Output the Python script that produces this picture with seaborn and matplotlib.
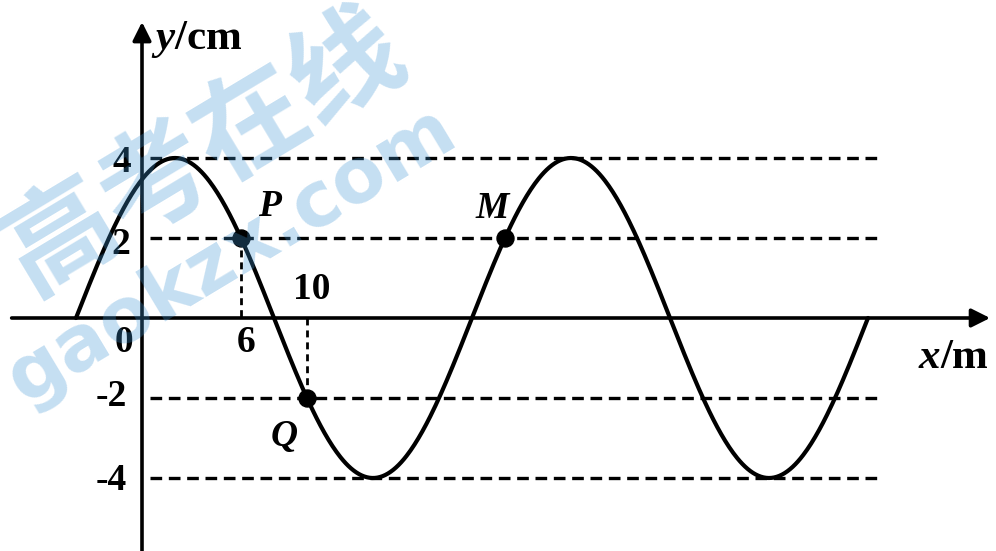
import numpy as np
import pandas as pd
import matplotlib
matplotlib.use("Agg")
import matplotlib.pyplot as plt
import seaborn as sns

# ---- data ----
amplitude_cm = 4.0
wavelength_m = 24.0
wave_start_m = -4.0
wave_end_m = 44.0
guide_levels = [4, 2, -2, -4]
point_names = ["P", "Q", "M"]
point_x = [6, 10, 22]
point_y = [2, -2, 2]
y_tick_values = [4, 2, -2, -4]
y_tick_labels = ["4", "2", "-2", "-4"]
x_tick_values = [0, 6, 10]
x_tick_labels = ["0", "6", "10"]

sns.set_theme(style="white")
plt.rcParams["mathtext.fontset"] = "custom"
plt.rcParams["mathtext.it"] = "Liberation Serif:italic:bold"
plt.rcParams["mathtext.rm"] = "Liberation Serif:bold"
plt.rcParams["mathtext.bf"] = "Liberation Serif:bold"
plt.rcParams["font.family"] = ["Liberation Serif", "DejaVu Sans"]

fig = plt.figure(figsize=(9.96, 5.51), dpi=100)
ax = fig.add_axes([0, 0, 1, 1])
ax.set_xlim(-142 / 16.5, (996 - 142) / 16.5)
ax.set_ylim(-(551 - 318) / 40, 318 / 40)
ax.axis("off")

# wave curve (sinusoid defined by read amplitude / wavelength / zero at x=-4)
xs = np.linspace(wave_start_m, wave_end_m, 600)
ys = amplitude_cm * np.sin(2 * np.pi * (xs - wave_start_m) / wavelength_m)
wave = pd.DataFrame({"x": xs, "y": ys})
sns.lineplot(data=wave, x="x", y="y", ax=ax, color="black", lw=3.0, sort=False, zorder=4)

# dashed guide lines
guide_right = 44.8
for lv in guide_levels:
    ax.plot([0.5, guide_right], [lv, lv], color="black", lw=2.4,
            linestyle=(0, (3.5, 2.0)), zorder=3)
# vertical dashed lines for P and Q
ax.plot([point_x[0], point_x[0]], [point_y[0], 0], color="black", lw=2.0,
        linestyle=(0, (2.5, 1.8)), zorder=3)
ax.plot([point_x[1], point_x[1]], [0, point_y[1]], color="black", lw=2.0,
        linestyle=(0, (2.5, 1.8)), zorder=3)

pts = pd.DataFrame({"x": point_x, "y": point_y, "name": point_names})
sns.scatterplot(data=pts, x="x", y="y", ax=ax, color="black", s=150,
                edgecolor="black", zorder=5, legend=False)

# axes with arrows
ax.annotate("", xy=(51.4, 0), xytext=(-7.9, 0),
            arrowprops=dict(arrowstyle="-|>", lw=2.6, color="black",
                            mutation_scale=28, shrinkA=0, shrinkB=0), zorder=6)
ax.annotate("", xy=(0, 7.4), xytext=(0, -5.9),
            arrowprops=dict(arrowstyle="-|>", lw=2.6, color="black",
                            mutation_scale=28, shrinkA=0, shrinkB=0), zorder=6)

fs = 27
tick_kw = dict(fontsize=fs, fontweight="bold", color="black", zorder=7)
ax.text(-1.2, 3.9, y_tick_labels[0], ha="center", va="center", **tick_kw)
ax.text(-1.3, 1.85, y_tick_labels[1], ha="center", va="center", **tick_kw)
ax.text(-1.85, -1.95, y_tick_labels[2], ha="center", va="center", **tick_kw)
ax.text(-1.85, -4.05, y_tick_labels[3], ha="center", va="center", **tick_kw)
ax.text(-1.1, -0.62, x_tick_labels[0], ha="center", va="center", **tick_kw)
ax.text(6.3, -0.62, x_tick_labels[1], ha="center", va="center", **tick_kw)
ax.text(10.3, 0.72, x_tick_labels[2], ha="center", va="center", **tick_kw)

lab_kw = dict(fontsize=fs, fontstyle="italic", fontweight="bold", color="black", zorder=7)
ax.text(7.7, 2.8, point_names[0], ha="center", va="center", **lab_kw)
ax.text(8.6, -2.95, point_names[1], ha="center", va="center", **lab_kw)
ax.text(21.2, 2.75, point_names[2], ha="center", va="center", **lab_kw)

ax.text(0.55, 6.95, r"$y$/cm", ha="left", va="center", fontsize=31,
        fontweight="bold", color="black", zorder=7)
ax.text(47.0, -1.0, r"$x$/m", ha="left", va="center", fontsize=31,
        fontweight="bold", color="black", zorder=7)

# watermark
wm_color = "#3e94d4"
ax.text(205 / 996, 1 - 152 / 551, "高考在线", transform=ax.transAxes, rotation=31,
        ha="center", va="center", fontsize=80, fontweight="black",
        family=["Noto Sans CJK SC"], color=wm_color, alpha=0.3, zorder=10)
ax.text(232 / 996, 1 - 255 / 551, "gaokzx.com", transform=ax.transAxes, rotation=31,
        ha="center", va="center", fontsize=55, fontweight="bold",
        family=["DejaVu Sans"], color=wm_color, alpha=0.3, zorder=10)

fig.savefig("out.png", dpi=100)
